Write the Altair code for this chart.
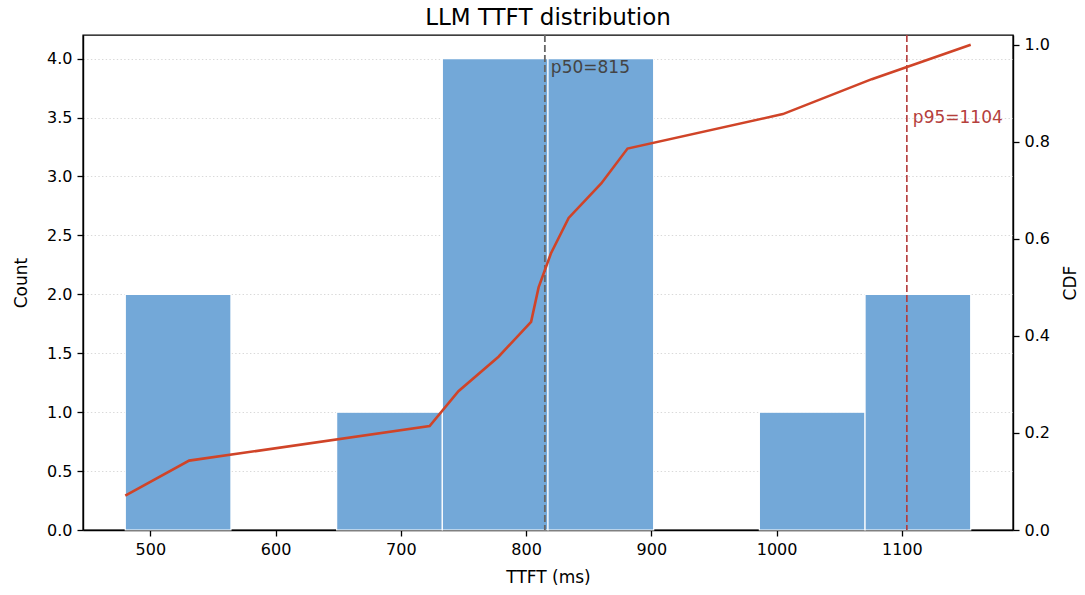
import altair as alt
import pandas as pd

# Histogram bins (ms) and counts
bin_start = [480.0, 564.375, 648.75, 733.125, 817.5, 901.875, 986.25, 1070.625]
bin_end = [564.375, 648.75, 733.125, 817.5, 901.875, 986.25, 1070.625, 1155.0]
counts = [2, 0, 1, 4, 4, 0, 1, 2]

# Empirical CDF (sorted samples, ms)
ttft_sorted = [480, 531, 723, 746, 778, 804, 810, 820, 834, 860, 881, 1005, 1076, 1155]
cdf_values = [0.071, 0.143, 0.214, 0.286, 0.357, 0.429, 0.5, 0.571, 0.643, 0.714, 0.786, 0.857, 0.929, 1.0]

# Percentiles
pct_values = [815, 1104]
pct_labels = ["p50=815", "p95=1104"]
pct_label_y = [3.92, 3.5]

FONT = "DejaVu Sans"

hist_df = pd.DataFrame({"start": bin_start, "end": bin_end, "count": counts})
cdf_df = pd.DataFrame({"ttft": ttft_sorted, "cdf": cdf_values})
p50_df = pd.DataFrame({"v": [pct_values[0]], "label": [pct_labels[0]], "y": [pct_label_y[0]]})
p95_df = pd.DataFrame({"v": [pct_values[1]], "label": [pct_labels[1]], "y": [pct_label_y[1]]})

x_scale = alt.Scale(domain=[446.25, 1188.75], nice=False, zero=False)

bars = alt.Chart(hist_df).transform_filter(alt.datum["count"] > 0).mark_rect(
    color="#73A8D8", stroke="white", strokeWidth=1.2
).encode(
    x=alt.X("start:Q", scale=x_scale,
            axis=alt.Axis(values=[500, 600, 700, 800, 900, 1000, 1100], title="TTFT (ms)",
                          grid=False, format="d", titlePadding=12)),
    x2="end:Q",
    y=alt.Y("count:Q", scale=alt.Scale(domain=[0, 4.2], nice=False),
            axis=alt.Axis(values=[0, 0.5, 1, 1.5, 2, 2.5, 3, 3.5, 4], format=".1f", title="Count",
                          titlePadding=16,
                          grid=True, gridColor="#d9d9d9", gridDash=[1.4, 2.3], gridWidth=1.1)),
    y2=alt.datum(0),
)

rule50 = alt.Chart(p50_df).mark_rule(color="#666666", strokeDash=[7, 3], strokeWidth=1.8).encode(x="v:Q")
rule95 = alt.Chart(p95_df).mark_rule(color="#B33A3A", strokeDash=[7, 3], strokeWidth=1.6).encode(x="v:Q")

text50 = alt.Chart(p50_df).mark_text(
    align="left", baseline="middle", dx=6, font=FONT, fontSize=17, color="#444444"
).encode(x="v:Q", y="y:Q", text="label:N")
text95 = alt.Chart(p95_df).mark_text(
    align="left", baseline="middle", dx=6, font=FONT, fontSize=17, color="#B5403C"
).encode(x="v:Q", y="y:Q", text="label:N")

left = alt.layer(bars, rule50, rule95, text50, text95)

line = alt.Chart(cdf_df).mark_line(color="#D04428", strokeWidth=2.6).encode(
    x=alt.X("ttft:Q", scale=x_scale),
    y=alt.Y("cdf:Q", scale=alt.Scale(domain=[0, 1.02], nice=False),
            axis=alt.Axis(values=[0, 0.2, 0.4, 0.6, 0.8, 1.0], format=".1f", title="CDF",
                          orient="right", grid=False, titleAngle=270, titlePadding=30)),
    order="ttft:Q",
)

chart = alt.layer(left, line).resolve_scale(y="independent").properties(
    width=930, height=495,
    background="white",
    autosize=alt.AutoSizeParams(type="none"),
    padding={"left": 83, "top": 35, "right": 72, "bottom": 65},
    title=alt.TitleParams("LLM TTFT distribution", font=FONT, fontSize=23, fontWeight="normal",
                          color="black", anchor="middle", offset=4),
).configure_view(
    stroke="black", strokeWidth=1.4
).configure_axis(
    labelFont=FONT, titleFont=FONT, labelFontSize=16, titleFontSize=17,
    labelColor="black", titleColor="black", titleFontWeight="normal",
    tickColor="black", tickSize=6, tickWidth=1.3, domainColor="black", domainWidth=1.4,
    labelPadding=5,
)

chart.save("out.html", embed_options={"renderer": "svg", "actions": False})
